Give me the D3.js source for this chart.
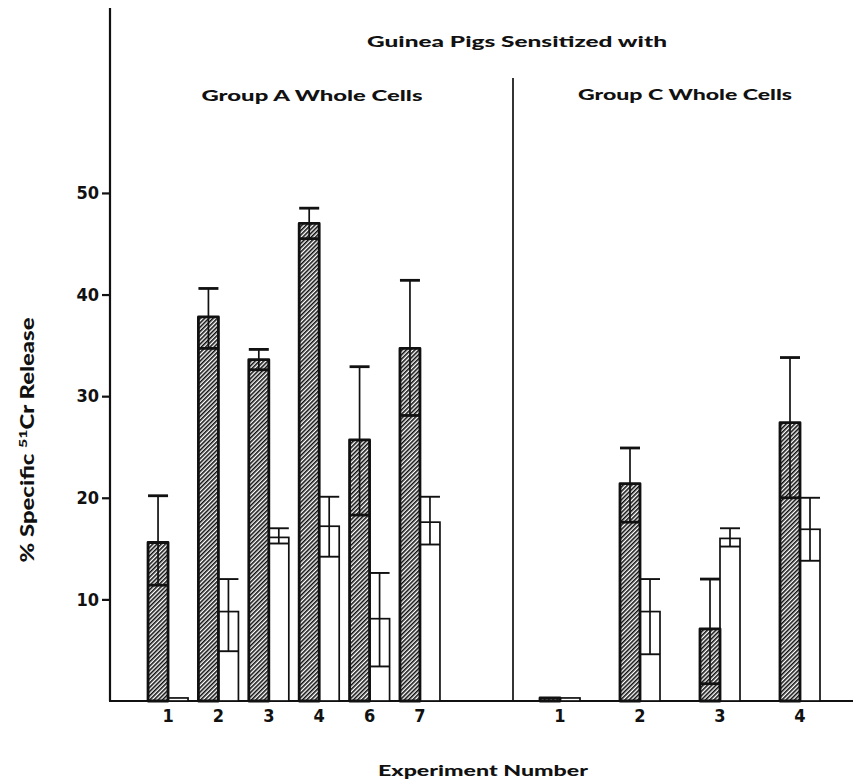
<!DOCTYPE html>
<html>
<head>
<meta charset="utf-8">
<script src="https://cdn.jsdelivr.net/npm/d3@7"></script>
<style>
  html, body { margin: 0; padding: 0; background: #fff; }
  svg { display: block; }
  .tick-label { font-family: "DejaVu Sans Condensed", "DejaVu Sans", sans-serif; font-stretch: condensed; font-weight: bold; font-size: 18px; fill: #111; }
  .title { font-family: Lato, "Open Sans", sans-serif; font-weight: 900; font-size: 15px; fill: #111; }
  .ytitle { font-family: Lato, "Open Sans", sans-serif; font-weight: 900; font-size: 18px; fill: #111; }
</style>
</head>
<body>
<script>
// ---------- data ----------
const groupAExperiments = ["1", "2", "3", "4", "6", "7"];
const groupAHatched     = [15.6, 37.8, 33.6, 47.0, 25.7, 34.7];
const groupAHatchedLow  = [11.4, 34.7, 32.6, 45.5, 18.3, 28.1];
const groupAHatchedHigh = [20.2, 40.6, 34.6, 48.5, 32.9, 41.4];
const groupAOpen        = [0.3, 8.8, 16.1, 17.2, 8.1, 17.6];
const groupAOpenLow     = [null, 4.9, 15.5, 14.2, 3.4, 15.4];
const groupAOpenHigh    = [null, 12.0, 17.0, 20.1, 12.6, 20.1];

const groupCExperiments = ["1", "2", "3", "4"];
const groupCHatched     = [0.3, 21.4, 7.1, 27.4];
const groupCHatchedLow  = [null, 17.6, 1.7, 20.0];
const groupCHatchedHigh = [null, 24.9, 12.0, 33.8];
const groupCOpen        = [0.3, 8.8, 16.0, 16.9];
const groupCOpenLow     = [null, 4.6, 15.2, 13.8];
const groupCOpenHigh    = [null, 12.0, 17.0, 20.0];

const yTickValues = [10, 20, 30, 40, 50];

// ---------- layout ----------
const W = 853, H = 783;
const svg = d3.select("body").append("svg").attr("width", W).attr("height", H);

const defs = svg.append("defs");
const pat = defs.append("pattern")
  .attr("id", "hatch").attr("patternUnits", "userSpaceOnUse")
  .attr("width", 3).attr("height", 3)
  .attr("patternTransform", "rotate(45)");
pat.append("rect").attr("width", 3).attr("height", 3).attr("fill", "#fff");
pat.append("line").attr("x1", 0.8).attr("y1", 0).attr("x2", 0.8).attr("y2", 3)
  .attr("stroke", "#111").attr("stroke-width", 1.6);

const y = d3.scaleLinear().domain([0, 68.2]).range([701, 8]);
const xA = d3.scaleBand().domain(groupAExperiments).range([143, 445]).paddingInner(0.206).paddingOuter(0.1);
const xC = d3.scaleBand().domain(groupCExperiments).range([520, 840]).paddingInner(0.5).paddingOuter(0.25);
const axisX = 110, dividerX = 513;

// ---------- axes ----------
svg.append("line").attr("x1", axisX).attr("x2", axisX).attr("y1", y(68.2)).attr("y2", y(0))
  .attr("stroke", "#111").attr("stroke-width", 2.2);
svg.append("line").attr("x1", axisX - 1).attr("x2", W).attr("y1", y(0)).attr("y2", y(0))
  .attr("stroke", "#111").attr("stroke-width", 2.2);

const yAxis = svg.append("g").attr("transform", `translate(${axisX},0)`)
  .call(d3.axisLeft(y).tickValues(yTickValues).tickSize(8).tickPadding(3));
yAxis.select(".domain").remove();
yAxis.selectAll(".tick line").attr("stroke", "#111").attr("stroke-width", 2.2);
yAxis.selectAll(".tick text").attr("class", "tick-label").attr("font-size", null).attr("font-family", null);

function drawGroup(x, cats, hat, hatLo, hatHi, opn, opnLo, opnHi) {
  const bw = x.bandwidth() / 2;
  const g = svg.append("g");
  const rows = cats.map((c, i) => ({ c, i }));

  // open bars
  g.selectAll(".open").data(rows).join("rect")
    .attr("x", d => x(d.c) + bw).attr("width", bw)
    .attr("y", d => y(opn[d.i])).attr("height", d => y(0) - y(opn[d.i]))
    .attr("fill", "#fff").attr("stroke", "#111").attr("stroke-width", 1.7);

  // hatched bars
  g.selectAll(".hat").data(rows).join("rect")
    .attr("x", d => x(d.c)).attr("width", bw)
    .attr("y", d => y(hat[d.i])).attr("height", d => y(0) - y(hat[d.i]))
    .attr("fill", "url(#hatch)").attr("stroke", "#111").attr("stroke-width", 2.8)
    .attr("stroke-linejoin", "round");

  function errs(lo, hi, x0, sw) {
    const er = rows.filter(d => lo[d.i] != null);
    g.selectAll(null).data(er).join("line")
      .attr("x1", d => x0(d) + bw / 2).attr("x2", d => x0(d) + bw / 2)
      .attr("y1", d => y(lo[d.i])).attr("y2", d => y(hi[d.i]))
      .attr("stroke", "#111").attr("stroke-width", 1.7);
    g.selectAll(null).data(er).join("line")
      .attr("x1", d => x0(d)).attr("x2", d => x0(d) + bw)
      .attr("y1", d => y(lo[d.i])).attr("y2", d => y(lo[d.i]))
      .attr("stroke", "#111").attr("stroke-width", sw);
    g.selectAll(null).data(er).join("line")
      .attr("x1", d => x0(d)).attr("x2", d => x0(d) + bw)
      .attr("y1", d => y(hi[d.i])).attr("y2", d => y(hi[d.i]))
      .attr("stroke", "#111").attr("stroke-width", sw);
  }
  errs(hatLo, hatHi, d => x(d.c), 2.8);
  errs(opnLo, opnHi, d => x(d.c) + bw, 1.9);

  const ax = svg.append("g").attr("transform", `translate(0,${y(0)})`)
    .call(d3.axisBottom(x).tickSize(0).tickPadding(8));
  ax.select(".domain").remove();
  ax.selectAll(".tick text").attr("class", "tick-label").attr("font-size", null).attr("font-family", null);
}

drawGroup(xA, groupAExperiments, groupAHatched, groupAHatchedLow, groupAHatchedHigh, groupAOpen, groupAOpenLow, groupAOpenHigh);
drawGroup(xC, groupCExperiments, groupCHatched, groupCHatchedLow, groupCHatchedHigh, groupCOpen, groupCOpenLow, groupCOpenHigh);

// divider
svg.append("line").attr("x1", dividerX).attr("x2", dividerX).attr("y1", 78).attr("y2", y(0))
  .attr("stroke", "#111").attr("stroke-width", 1.7);

// ---------- titles ----------
svg.append("text").attr("class", "title").attr("x", 517).attr("y", 47)
  .attr("text-anchor", "middle").attr("textLength", 300).attr("lengthAdjust", "spacingAndGlyphs")
  .text("Guinea Pigs Sensitized  with");
svg.append("text").attr("class", "title").attr("x", 312).attr("y", 101)
  .attr("text-anchor", "middle").attr("textLength", 221).attr("lengthAdjust", "spacingAndGlyphs")
  .text("Group A Whole Cells");
svg.append("text").attr("class", "title").attr("x", 685).attr("y", 100)
  .attr("text-anchor", "middle").attr("textLength", 214).attr("lengthAdjust", "spacingAndGlyphs")
  .text("Group C Whole Cells");
svg.append("text").attr("class", "title").attr("x", 483).attr("y", 776)
  .attr("text-anchor", "middle").attr("textLength", 210).attr("lengthAdjust", "spacingAndGlyphs")
  .text("Experiment Number");

const yt = svg.append("text").attr("class", "ytitle")
  .attr("transform", "translate(34,440) rotate(-90)")
  .attr("text-anchor", "middle")
  .attr("textLength", 245).attr("lengthAdjust", "spacingAndGlyphs");
yt.append("tspan").text("% Specific ");
yt.append("tspan").attr("font-size", 12).attr("dy", -7).text("51");
yt.append("tspan").attr("dy", 7).text("Cr Release");
</script>
</body>
</html>
